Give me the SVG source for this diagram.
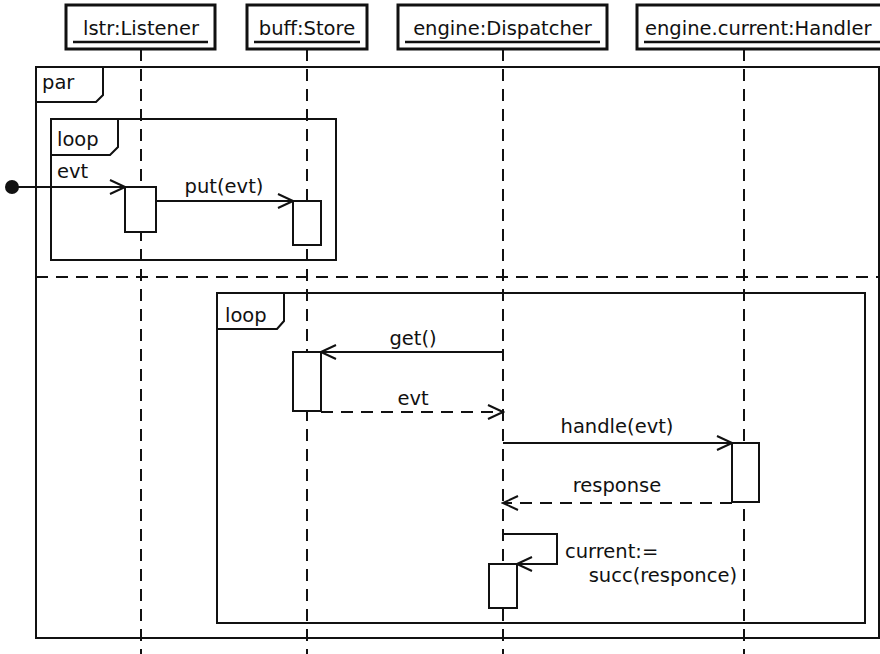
<svg xmlns="http://www.w3.org/2000/svg" width="880" height="654" viewBox="0 0 880 654">
<style>
text{font-family:"DejaVu Sans","Liberation Sans",sans-serif;font-size:19.5px;fill:#111}
.hdr{fill:#fff;stroke:#111;stroke-width:3}
.ul{stroke:#111;stroke-width:2.5}
.life{stroke:#111;stroke-width:2;stroke-dasharray:12 8;fill:none}
.frame{fill:none;stroke:#111;stroke-width:2}
.act{fill:#fff;stroke:#111;stroke-width:2}
.msg{fill:none;stroke:#111;stroke-width:2}
.ret{fill:none;stroke:#111;stroke-width:2;stroke-dasharray:12 8}
.mid{text-anchor:middle}
</style>
<defs>
<marker id="arr" viewBox="0 0 18 16" refX="16" refY="8" markerWidth="18" markerHeight="16" markerUnits="userSpaceOnUse" orient="auto">
<path d="M1,1 L16,8 L1,15" fill="none" stroke="#111" stroke-width="2" stroke-dasharray="none"/>
</marker>
</defs>
<rect width="880" height="654" fill="#fff"/>

<g id="lifelines">
<line class="life" x1="141" y1="49" x2="141" y2="654"/>
<line class="life" x1="307" y1="49" x2="307" y2="654"/>
<line class="life" x1="503" y1="49" x2="503" y2="654"/>
<line class="life" x1="744" y1="49" x2="744" y2="654"/>
</g>

<g id="lstr">
<rect class="hdr" x="66" y="5" width="149" height="44"/>
<text class="mid" x="141" y="35">lstr:Listener</text>
<line class="ul" x1="73" y1="42" x2="208" y2="42"/>
</g>
<g id="buff">
<rect class="hdr" x="247" y="5" width="120" height="44"/>
<text class="mid" x="307" y="35">buff:Store</text>
<line class="ul" x1="254" y1="42" x2="360" y2="42"/>
</g>
<g id="dispatcher">
<rect class="hdr" x="398" y="5" width="209" height="44"/>
<text class="mid" x="502.5" y="35">engine:Dispatcher</text>
<line class="ul" x1="405" y1="42" x2="600" y2="42"/>
</g>
<g id="handler">
<rect class="hdr" x="637" y="5" width="260" height="44"/>
<text x="645" y="35">engine.current:Handler</text>
<line class="ul" x1="644" y1="42" x2="890" y2="42"/>
</g>

<g id="par">
<rect class="frame" x="36" y="67" width="843" height="571"/>
<path class="frame" d="M36,102 L96,102 L103,95 L103,67"/>
<text x="42" y="89">par</text>
<line class="life" x1="36" y1="277" x2="879" y2="277"/>
</g>

<g id="loop1">
<rect class="frame" x="51" y="119" width="285" height="141"/>
<path class="frame" d="M51,155 L110,155 L118,147 L118,119"/>
<text x="57" y="146">loop</text>
</g>

<g id="loop2">
<rect class="frame" x="217" y="293" width="648" height="330"/>
<path class="frame" d="M217,329 L277,329 L284,321 L284,293"/>
<text x="225" y="322">loop</text>
</g>

<g id="activations">
<rect class="act" x="125" y="187" width="31" height="45"/>
<rect class="act" x="293" y="201" width="28" height="44"/>
<rect class="act" x="293" y="352" width="28" height="59"/>
<rect class="act" x="732" y="443" width="27" height="59"/>
<rect class="act" x="489" y="564" width="28" height="44"/>
</g>

<g id="connectors">
<circle cx="12" cy="187" r="7" fill="#111"/>
<line class="msg" x1="12" y1="187" x2="125" y2="187" marker-end="url(#arr)"/>
<line class="msg" x1="156" y1="201" x2="293" y2="201" marker-end="url(#arr)"/>
<line class="msg" x1="503" y1="352" x2="321" y2="352" marker-end="url(#arr)"/>
<line class="ret" x1="321" y1="412" x2="503" y2="412" marker-end="url(#arr)"/>
<line class="msg" x1="503" y1="443" x2="732" y2="443" marker-end="url(#arr)"/>
<line class="ret" x1="732" y1="503" x2="503" y2="503" marker-end="url(#arr)"/>
<path class="msg" d="M503,534 L557,534 L557,564 L517,564" marker-end="url(#arr)"/>
</g>

<g id="labels">
<text x="57" y="178">evt</text>
<text class="mid" x="224" y="193">put(evt)</text>
<text class="mid" x="413" y="345">get()</text>
<text class="mid" x="413" y="405">evt</text>
<text class="mid" x="617" y="433">handle(evt)</text>
<text class="mid" x="617" y="492">response</text>
<text x="565" y="558">current:=</text>
<text x="737" y="582" text-anchor="end">succ(responce)</text>
</g>
</svg>
